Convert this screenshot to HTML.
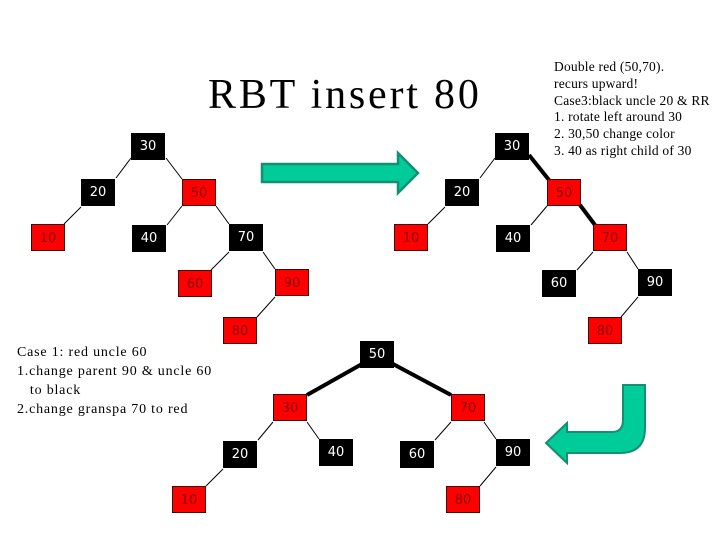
<!DOCTYPE html>
<html><head><meta charset="utf-8"><style>
body{margin:0;background:#fff;width:720px;height:540px;overflow:hidden;position:relative;font-family:"Liberation Serif",serif}
.n{position:absolute;width:34px;height:27px;box-sizing:border-box;font:13px "DejaVu Sans",sans-serif;text-align:center;line-height:27px}
.b{background:#000;color:#fff}
.r{background:#f00;color:#800;border:1.5px solid #400}
.t{position:absolute;color:#000;white-space:nowrap}
svg{position:absolute;left:0;top:0}
</style></head><body>
<svg width="720" height="540">
<g stroke="#000" stroke-width="1">
<line x1="131" y1="158" x2="116" y2="178"/><line x1="166" y1="158" x2="182" y2="179"/>
<line x1="81" y1="207" x2="64" y2="224"/><line x1="182" y1="206" x2="167" y2="225"/>
<line x1="216" y1="206" x2="229" y2="224"/><line x1="229" y1="252" x2="211" y2="270"/>
<line x1="263" y1="252" x2="275" y2="269"/><line x1="275" y1="297" x2="257" y2="317"/>
<line x1="495" y1="158" x2="480" y2="178"/><line x1="445" y1="207" x2="428" y2="224"/>
<line x1="547" y1="206" x2="531" y2="225"/><line x1="593" y1="252" x2="577" y2="270"/>
<line x1="627" y1="252" x2="638" y2="269"/><line x1="638" y1="297" x2="621" y2="317"/>
<line x1="273" y1="422" x2="258" y2="440"/><line x1="307" y1="422" x2="319" y2="439"/>
<line x1="223" y1="469" x2="206" y2="486"/><line x1="451" y1="422" x2="435" y2="440"/>
<line x1="484" y1="422" x2="496" y2="439"/><line x1="496" y1="467" x2="480" y2="486"/>
</g>
<g stroke="#000" stroke-width="4">
<line x1="529" y1="155" x2="549" y2="180"/><line x1="580" y1="205" x2="595" y2="225"/>
<line x1="362" y1="364" x2="307" y2="395"/><line x1="393" y1="364" x2="451" y2="395"/>
</g>
<polygon points="262,164 398,164 398,153 418,173 398,193 398,182 262,182" fill="#00cc99" stroke="#139070" stroke-width="2.5"/>
<path d="M623,385 L645,385 L645,428 Q645,453 620,453 L567,453 L567,463 L546,443 L567,423 L567,432 L612,432 Q623,432 623,420 Z" fill="#00cc99" stroke="#139070" stroke-width="2"/>
</svg>
<div class="t" style="left:208px;top:71px;font-size:42px;letter-spacing:2.8px">RBT insert 80</div>
<div class="t" style="left:554px;top:59px;font-size:13.5px;line-height:16.8px;letter-spacing:0.2px">Double red (50,70).<br>recurs upward!<br>Case3:black uncle 20 &amp; RR<br>1. rotate left around 30<br>2. 30,50 change color<br>3. 40 as right child of 30</div>
<div class="t" style="left:17px;top:343px;font-size:14px;line-height:19px;letter-spacing:0.8px">Case 1: red uncle 60<br>1.change parent 90 &amp; uncle 60<br>&nbsp;&nbsp;&nbsp;to black<br>2.change granspa 70 to red</div>
<div class="n b" style="left:131px;top:133px">30</div>
<div class="n b" style="left:81px;top:179px">20</div>
<div class="n r" style="left:182px;top:179px">50</div>
<div class="n r" style="left:31px;top:224px">10</div>
<div class="n b" style="left:132px;top:225px">40</div>
<div class="n b" style="left:229px;top:224px">70</div>
<div class="n r" style="left:178px;top:270px">60</div>
<div class="n r" style="left:275px;top:269px">90</div>
<div class="n r" style="left:223px;top:317px">80</div>
<div class="n b" style="left:495px;top:133px">30</div>
<div class="n b" style="left:445px;top:179px">20</div>
<div class="n r" style="left:547px;top:179px">50</div>
<div class="n r" style="left:394px;top:224px">10</div>
<div class="n b" style="left:496px;top:225px">40</div>
<div class="n r" style="left:593px;top:224px">70</div>
<div class="n b" style="left:542px;top:270px">60</div>
<div class="n b" style="left:638px;top:269px">90</div>
<div class="n r" style="left:588px;top:317px">80</div>
<div class="n b" style="left:360px;top:341px">50</div>
<div class="n r" style="left:273px;top:394px">30</div>
<div class="n r" style="left:451px;top:394px">70</div>
<div class="n b" style="left:223px;top:441px">20</div>
<div class="n b" style="left:319px;top:439px">40</div>
<div class="n b" style="left:400px;top:441px">60</div>
<div class="n b" style="left:496px;top:439px">90</div>
<div class="n r" style="left:172px;top:486px">10</div>
<div class="n r" style="left:446px;top:486px">80</div>
</body></html>
